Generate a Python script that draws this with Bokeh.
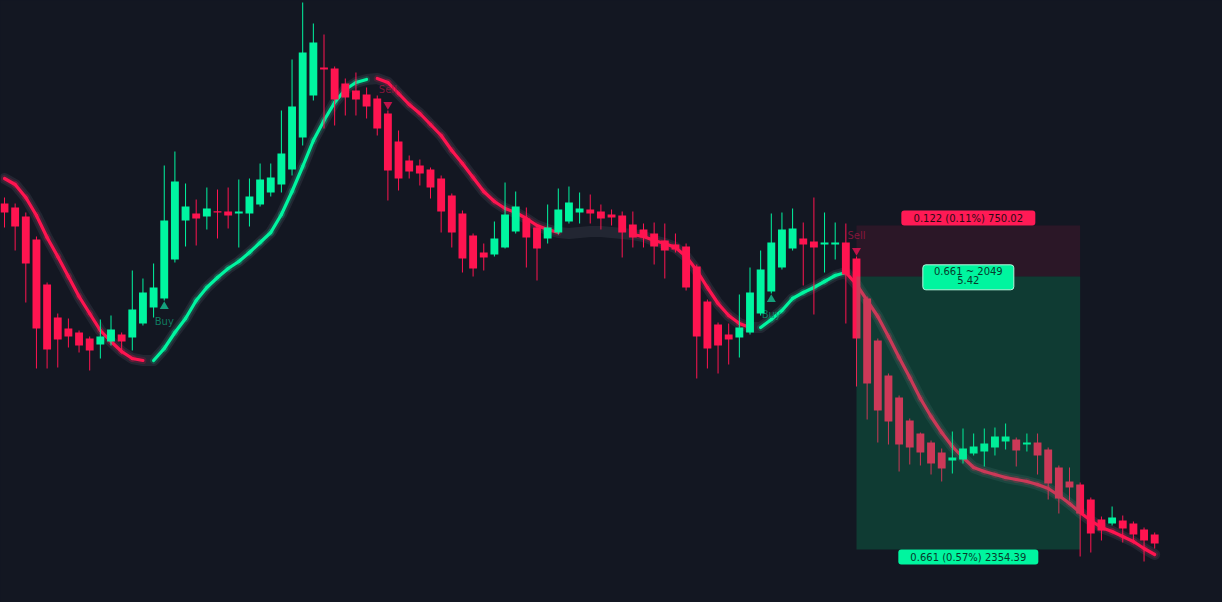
import numpy as np
from bokeh.plotting import figure
from bokeh.models import Range1d
from bokeh.embed import file_html
from bokeh.resources import INLINE
from bokeh.core.properties import value

# ---- data (price units) ----
opens = [399,395,386,363,318,285,274,270,264,258,
         261,268,265,279,295,304,343,382,389,386,
         391,391,389,389,398,410,418,433,465,507,
         535,534,519,512,508,504,489,461,442,437,
         433,424,407,389,367,350,348,355,371,384,
         375,364,370,381,390,393,391,388,387,378,
         373,369,362,358,356,336,301,278,268,265,
         270,289,311,335,354,364,361,358,358,360,
         344,304,262,227,205,182,169,160,150,142,
         143,149,151,155,161,163,158,160,153,135,
         121,118,103,83,79,82,79,73,68]
highs = [405,399,390,366,320,289,284,272,266,283,
         287,270,332,324,339,437,451,419,403,415,
         413,415,423,424,439,439,492,543,600,579,
         568,536,524,530,515,507,492,472,447,443,
         435,427,409,392,369,359,381,420,411,395,
         378,398,414,416,410,408,398,393,391,391,
         379,380,379,369,359,338,303,280,279,308,
         335,352,389,390,394,380,405,390,380,379,
         346,306,264,229,207,184,170,162,154,171,
         174,169,174,175,179,165,169,169,155,137,
         135,120,105,86,96,87,81,75,70]
lows = [375,352,300,234,234,235,255,250,232,244,
        257,249,252,277,285,302,340,356,357,373,
        364,374,355,376,396,406,410,427,457,502,
        474,477,487,487,484,467,402,412,424,417,
        404,370,355,330,326,332,346,354,369,335,
        322,359,368,379,379,379,373,377,345,355,
        355,338,324,350,312,224,234,229,238,245,
        268,287,309,333,352,317,288,330,343,279,
        216,183,160,158,131,138,137,128,121,129,
        139,147,136,147,153,136,151,128,103,89,
        102,46,50,62,77,60,59,41,54]
closes = [390,376,339,274,253,263,266,257,252,266,
          273,261,293,310,315,382,421,396,384,394,
          390,387,391,406,423,425,449,496,550,560,
          533,503,505,503,496,474,432,424,431,429,
          415,391,370,344,334,345,364,388,396,365,
          354,375,393,400,394,389,384,385,370,365,
          365,356,352,353,315,266,254,257,263,275,
          310,333,360,373,374,358,355,360,360,328,
          264,219,192,181,158,155,150,139,134,145,
          154,156,159,166,166,152,160,147,119,104,
          115,89,69,72,85,74,68,62,59]
ma = [424,418,405,387,365,346,326,306,289,272,
      261,251,244,242,242,254,270,284,302,315,
      325,334,341,350,360,370,388,411,436,462,
      482,500,513,520,523,524,520,509,498,489,
      478,467,452,439,425,411,401,394,390,384,
      377,373,370,369,370,371,371,370,369,368,
      366,362,359,355,346,332,315,299,287,279,
      275,275,283,292,304,310,315,321,327,330,
      318,302,286,266,245,225,204,186,170,156,
      145,135,131,128,125,123,121,118,114,107,
      99,90,82,75,71,66,61,54,48]

buy_idx = [15, 72]
sell_idx = [36, 80]

pos_start, pos_end = 80, 101
pos_entry, pos_stop, pos_target = 326, 377, 53
label_top = "0.122 (0.11%) 750.02"
label_mid = ["0.661 ~ 2049", "5.42"]
label_bot = "0.661 (0.57%) 2354.39"

# ---- style ----
BG = "#131722"
UP = "#00f5a0"
DN = "#ff1450"
FONT = value("DejaVu Sans")

n = len(opens)
idx = np.arange(n)
o = np.array(opens, float); c = np.array(closes, float)
h = np.array(highs, float); l = np.array(lows, float)
m = np.array(ma, float)
cols = [UP if cc >= oo else DN for oo, cc in zip(o, c)]
tops = np.maximum(o, c)
bots = np.minimum(o, c)
tops = np.where(tops - bots < 1.2, bots + 1.2, tops)

x0 = -4 / 10.65
p = figure(width=1222, height=602, output_backend="svg", toolbar_location=None,
           x_range=Range1d(x0, x0 + 1222 / 10.65), y_range=Range1d(0, 602),
           x_axis_type=None, y_axis_type=None, min_border=0,
           background_fill_color=BG, border_fill_color=BG, outline_line_color=None)

# moving average glow
p.line(idx, m, line_width=11, line_color="#2a2e39", line_alpha=0.7,
       line_join="round", line_cap="round")

# moving average coloured by direction
sx0, sy0, sx1, sy1, sc = [], [], [], [], []
for i in range(n - 1):
    d = m[i + 1] - m[i]
    if abs(d) < 1.5:
        continue
    sx0.append(i); sy0.append(m[i]); sx1.append(i + 1); sy1.append(m[i + 1])
    sc.append(UP if d > 0 else DN)
p.segment(sx0, sy0, sx1, sy1, line_color=sc, line_width=7, line_alpha=0.16, line_cap="round")
p.segment(sx0, sy0, sx1, sy1, line_color=sc, line_width=3.2, line_cap="round")

# signal markers
bx = buy_idx
p.scatter(x=bx, y=[lows[i] - 6 for i in bx], marker="triangle", size=9,
          fill_color="#14a07c", line_color=None)
p.text(x=bx, y=[lows[i] - 21 for i in bx], text=["Buy"] * len(bx),
       text_align="center", text_baseline="middle", text_font=FONT,
       text_font_size="10px", text_color="#0f8f6d", text_alpha=0.85)
sx = sell_idx
p.scatter(x=sx, y=[highs[i] + 6 for i in sx], marker="inverted_triangle", size=9,
          fill_color="#c0134a", line_color=None)
p.text(x=sx, y=[highs[i] + 21 for i in sx], text=["Sell"] * len(sx),
       text_align="center", text_baseline="middle", text_font=FONT,
       text_font_size="10px", text_color="#9a1640", text_alpha=0.8)

# candles
p.segment(x0=idx, y0=l, x1=idx, y1=h, line_color=cols, line_width=1)
p.vbar(x=idx, width=0.74, top=tops, bottom=bots, fill_color=cols, line_color=None)

# position tool
p.quad(left=pos_start, right=pos_end, bottom=pos_entry, top=pos_stop,
       fill_color="#ff1a55", fill_alpha=0.1, line_color=None)
p.quad(left=pos_start, right=pos_end, bottom=pos_target, top=pos_entry,
       fill_color="#00cf7a", fill_alpha=0.2, line_color=None)

cx = (pos_start + pos_end) / 2
p.rect(x=[cx], y=[pos_stop + 7.5], width=134, height=15, width_units="screen",
       height_units="screen", fill_color="#ff1a55", line_color=None, border_radius=3)
p.text(x=[cx], y=[pos_stop + 7.5], text=[label_top], text_align="center",
       text_baseline="middle", text_font=FONT, text_font_size="10px", text_color="#2a0a14")
p.rect(x=[cx], y=[pos_entry - 0.8], width=91, height=25, width_units="screen",
       height_units="screen", fill_color="#00f59f", line_color="#b2f7dc", line_width=1,
       border_radius=3)
p.text(x=[cx, cx], y=[pos_entry + 5.5, pos_entry - 3], text=label_mid, text_align="center",
       text_baseline="middle", text_font=FONT, text_font_size="10px", text_color="#073b2c")
p.rect(x=[cx], y=[pos_target - 7.5], width=140, height=15, width_units="screen",
       height_units="screen", fill_color="#00f59f", line_color=None, border_radius=3)
p.text(x=[cx], y=[pos_target - 7.5], text=[label_bot], text_align="center",
       text_baseline="middle", text_font=FONT, text_font_size="10px", text_color="#073b2c")

TEMPLATE = """
{% block postamble %}
<style>html, body { margin: 0 !important; padding: 0 !important; background: #131722 !important; overflow: hidden; }</style>
{% endblock %}
"""

open("out.html", "w").write(file_html(p, INLINE, template=TEMPLATE))
